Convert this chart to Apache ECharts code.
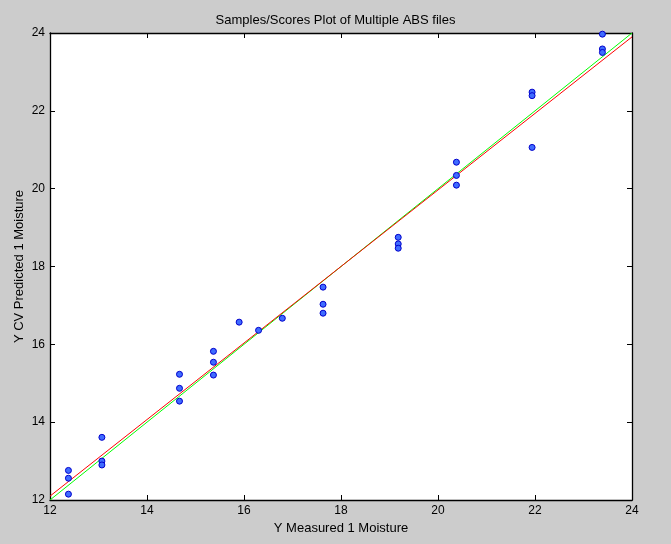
<!DOCTYPE html>
<html>
<head>
<meta charset="utf-8">
<script src="https://cdn.jsdelivr.net/npm/echarts@6/dist/echarts.min.js"></script>
<style>
html, body { margin: 0; padding: 0; background: #cccccc; }
#main { width: 671px; height: 544px; }
</style>
</head>
<body>
<div id="main"></div>
<script>
var myChart = echarts.init(document.getElementById('main'));

// measured vs cv-predicted moisture
var measured = [12.38, 12.38, 12.38, 13.07, 13.07, 13.07,
    14.67, 14.67, 14.67, 15.37, 15.37, 15.37, 15.90, 16.30, 16.79,
    17.63, 17.63, 17.63, 19.18, 19.18, 19.18, 20.38, 20.38, 20.38,
    21.94, 21.94, 21.94, 23.39, 23.39, 23.39];
var predicted = [12.76, 12.56, 12.15, 13.61, 13.00, 12.90,
    15.23, 14.87, 14.54, 15.82, 15.54, 15.21, 16.57, 16.36, 16.67,
    17.47, 17.03, 16.80, 18.75, 18.58, 18.47, 20.68, 20.34, 20.09,
    21.06, 22.48, 22.39, 23.97, 23.59, 23.50];

// fit line (red) and target line (green) end points
var fitX = [12, 24];
var fitY = [12.1, 23.9];
var targetX = [12, 24];
var targetY = [12, 24];

var pts = measured.map(function (m, i) { return [m, predicted[i]]; });
var fitLine = fitX.map(function (x, i) { return [x, fitY[i]]; });
var targetLine = targetX.map(function (x, i) { return [x, targetY[i]]; });

var font = 'Liberation Sans, Arial, sans-serif';
var tick = { show: true, inside: true, length: 5, lineStyle: { color: '#000', width: 1 } };
var line = { show: true, lineStyle: { color: '#000', width: 1.3 } };

myChart.setOption({
    backgroundColor: '#cccccc',
    animation: false,
    title: {
        text: 'Samples/Scores Plot of Multiple ABS files',
        left: 'center',
        top: 9,
        textStyle: { color: '#000', fontSize: 13, fontWeight: 'normal', fontFamily: font }
    },
    grid: { left: 50, right: 39, top: 33, bottom: 44, show: true, backgroundColor: '#fff', borderWidth: 0 },
    xAxis: [{
        type: 'value', min: 12, max: 24, interval: 2,
        name: 'Y Measured 1 Moisture', nameLocation: 'middle', nameGap: 22,
        nameTextStyle: { color: '#000', fontSize: 13, fontFamily: font },
        axisLine: line, axisTick: tick, splitLine: { show: false },
        axisLabel: { color: '#000', fontSize: 12, fontFamily: font, margin: 5 }
    }, {
        type: 'value', min: 12, max: 24, interval: 2, position: 'top',
        axisLine: line, axisTick: tick, splitLine: { show: false },
        axisLabel: { show: false }
    }],
    yAxis: [{
        type: 'value', min: 12, max: 24, interval: 2,
        name: 'Y CV Predicted 1 Moisture', nameLocation: 'middle', nameGap: 24,
        nameMoveOverlap: false,
        nameTextStyle: { color: '#000', fontSize: 13, fontFamily: font },
        axisLine: line, axisTick: tick, splitLine: { show: false },
        axisLabel: { color: '#000', fontSize: 12, fontFamily: font, margin: 5 }
    }, {
        type: 'value', min: 12, max: 24, interval: 2, position: 'right',
        axisLine: line, axisTick: tick, splitLine: { show: false },
        axisLabel: { show: false }
    }],
    series: [{
        type: 'line',
        data: targetLine,
        symbol: 'none',
        lineStyle: { color: '#00ff00', width: 1 },
        z: 2
    }, {
        type: 'line',
        data: fitLine,
        symbol: 'none',
        lineStyle: { color: '#ff0000', width: 1 },
        z: 3
    }, {
        type: 'scatter',
        data: pts,
        symbol: 'circle',
        symbolSize: 6,
        itemStyle: { color: '#3f6cff', borderColor: '#0000cc', borderWidth: 1, opacity: 1 },
        z: 4
    }]
});
</script>
</body>
</html>
